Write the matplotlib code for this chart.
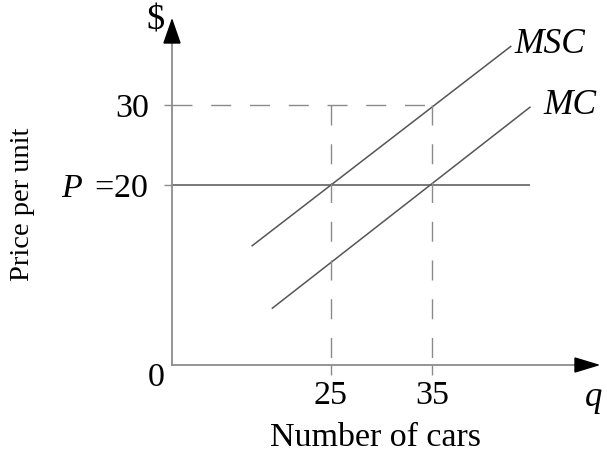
import matplotlib
matplotlib.use("Agg")
import matplotlib.pyplot as plt
from matplotlib.patches import Polygon

# ---- data ----
q_ticks = [25, 35]
p_ticks = [20, 30]
p_tick_labels = [r"$P\,$ =20", "30"]
price = 20
msc_q = [17.2, 42.8]
msc_p = [12.4, 37.3]
mc_q = [19.2, 44.7]
mc_p = [4.6, 29.7]
price_line_end = 44.7
x_limits = (9.26, 51.44)
y_limits = (-2.5, 40.6)

plt.rcParams["font.family"] = ["Liberation Serif", "DejaVu Serif"]
plt.rcParams["mathtext.fontset"] = "custom"
plt.rcParams["mathtext.rm"] = "Liberation Serif"
plt.rcParams["mathtext.it"] = "Liberation Serif:italic"

W, H = 607, 455
fig = plt.figure(figsize=(W / 100, H / 100), dpi=100)
fig.patch.set_facecolor("white")

ax_left, ax_right, ax_bottom, ax_top = 172, 598, 365, 20
ax = fig.add_axes([ax_left / W, 1 - ax_bottom / H, (ax_right - ax_left) / W, (ax_bottom - ax_top) / H])
ax.set_xlim(*x_limits)
ax.set_ylim(*y_limits)
ax.set_facecolor("white")

axis_color = "#8c8c8c"
curve_color = "#555555"
dash_color = "#8a8a8a"

for s in ["top", "right"]:
    ax.spines[s].set_visible(False)
for s in ["left", "bottom"]:
    ax.spines[s].set_color(axis_color)
    ax.spines[s].set_linewidth(1.3)

# arrowheads (axes fraction)
xb = (575 - ax_left) / (ax_right - ax_left)
yb = (ax_bottom - 43) / (ax_bottom - ax_top)
ax.add_patch(Polygon([[1.0, 0.0], [xb, 7 / 345], [xb, -7 / 345]], closed=True,
                     transform=ax.transAxes, color="black", clip_on=False, zorder=5))
ax.add_patch(Polygon([[0.0, 1.0], [8 / 426, yb], [-8 / 426, yb]], closed=True,
                     transform=ax.transAxes, color="black", clip_on=False, zorder=5))

# ticks
ax.set_xticks(q_ticks)
ax.set_xticklabels([str(v) for v in q_ticks], fontsize=24.5)
ax.set_yticks(p_ticks)
ax.set_yticklabels(p_tick_labels, fontsize=24.5)
ax.tick_params(axis="x", length=7.2, width=1.0, color=dash_color, pad=4, direction="out")
ax.tick_params(axis="y", length=5.8, width=1.0, color=axis_color, pad=11, direction="out")

# lines
ax.hlines(price, x_limits[0], price_line_end, color=curve_color, lw=1.1)
ax.plot(msc_q, msc_p, color=curve_color, lw=1.1)
ax.plot(mc_q, mc_p, color=curve_color, lw=1.1)

dash = (0, (14.4, 13.5))
ax.plot([x_limits[0], q_ticks[1]], [p_ticks[1], p_ticks[1]], color=dash_color, lw=1.0, linestyle=dash)
for qv in q_ticks:
    ax.plot([qv, qv], [p_ticks[1], y_limits[0]], color=dash_color, lw=1.0, linestyle=dash)

# curve labels
ax.text(43.2, 37.5, "MSC", fontsize=25.5, style="italic", ha="left", va="center")
ax.text(46.0, 29.9, "MC", fontsize=25.5, style="italic", ha="left", va="center")

# figure annotations
fig.text(156 / W, 1 - 21 / H, "$", fontsize=26, ha="center", va="center")
fig.text(156 / W, 1 - 378 / H, "0", fontsize=24.5, ha="center", va="center")
fig.text(594 / W, 1 - 398 / H, "q", fontsize=25, style="italic", ha="center", va="center")
fig.text(375 / W, 1 - 438 / H, "Number of cars", fontsize=24.5, ha="center", va="center")
fig.text(23 / W, 1 - 204 / H, "Price per unit", fontsize=20.5, ha="center", va="center", rotation=90)

fig.savefig("out.png", dpi=100)
